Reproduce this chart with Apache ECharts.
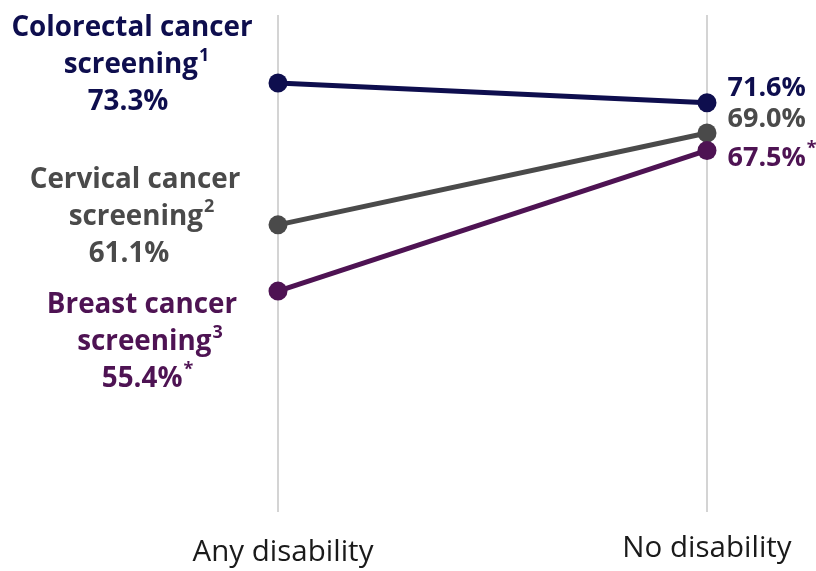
<!DOCTYPE html>
<html>
<head>
<meta charset="utf-8">
<script src="https://cdn.jsdelivr.net/npm/echarts@6/dist/echarts.min.js"></script>
<style>html,body{margin:0;padding:0;background:#fff}#c{width:816px;height:571px}</style>
</head>
<body>
<div id="c"></div>
<script>
var categories = ['Any disability', 'No disability'];
var seriesNames = ['Colorectal cancer screening', 'Cervical cancer screening', 'Breast cancer screening'];
var colorectal = [73.3, 71.6];
var cervical = [61.1, 69.0];
var breast = [55.4, 67.5];
var footnotes = ['1', '2', '3'];
var significant = [[false, false], [false, false], [true, true]];

var colors = ['#0e0e4e', '#4a4a4a', '#4e1353'];
var FONT = '"Open Sans", sans-serif';
// per-line horizontal nudges for the left labels [line2 padL, line2 padR, line3 padL, line3 padR]
var linePads = [[9, 0, 0, 7], [13, 0, 0, 11], [16, 0, 11, 0]];

function rich(color, size, pads) {
  pads = pads || [0, 0, 0, 0];
  var base = { fontFamily: FONT, fontWeight: 'bold', fontSize: size, color: color, lineHeight: 37 };
  return {
    t: base,
    t2: Object.assign({}, base, { padding: [0, 0, 0, pads[0]] }),
    t3: Object.assign({}, base, { padding: [0, 0, 0, pads[2]] }),
    sup: { fontFamily: FONT, fontWeight: 'bold', fontSize: 18, color: color, verticalAlign: 'top', lineHeight: 37, padding: [0, 0, 10, 1] },
    sup2: { fontFamily: FONT, fontWeight: 'bold', fontSize: 18, color: color, verticalAlign: 'top', lineHeight: 37, padding: [0, pads[1], 10, 1] },
    sup3: { fontFamily: FONT, fontWeight: 'bold', fontSize: 18, color: color, verticalAlign: 'top', lineHeight: 37, padding: [0, pads[3], 10, 1] }
  };
}

function leftLabel(idx, name, val, offset) {
  var words = name.split(' ');
  var line1 = words.slice(0, 2).join(' ');
  var line2 = words.slice(2).join(' ');
  var star = significant[idx][0] ? '*' : '';
  return {
    show: true,
    position: 'inside',
    offset: offset,
    align: 'center',
    formatter: '{t|' + line1 + '}\n{t2|' + line2 + '}{sup2|' + footnotes[idx] + '}\n{t3|' + val.toFixed(1) + '%}{sup3|' + star + '}',
    rich: rich(colors[idx], 27.8, linePads[idx])
  };
}

function rightLabel(idx, val, offset) {
  var star = significant[idx][1] ? '{sup|*}' : '';
  return {
    show: true,
    position: 'right',
    distance: 11,
    offset: offset,
    formatter: '{t|' + val.toFixed(1) + '%}' + star,
    rich: rich(colors[idx], 27)
  };
}

var allData = [colorectal, cervical, breast];
var leftOffsets = [[-146, -18], [-143, -8], [-136, 51]];
var rightOffsets = [[0, -14], [0, -14], [0, 8]];

var series = allData.map(function (vals, i) {
  return {
    name: seriesNames[i],
    type: 'line',
    symbol: 'circle',
    symbolSize: 19,
    lineStyle: { color: colors[i], width: 5 },
    itemStyle: { color: colors[i] },
    data: [
      { value: vals[0], label: leftLabel(i, seriesNames[i], vals[0], leftOffsets[i]) },
      { value: vals[1], label: rightLabel(i, vals[1], rightOffsets[i]) }
    ],
    animation: false
  };
});
series[0].z = 5; series[1].z = 4; series[2].z = 6;

var chart = echarts.init(document.getElementById('c'), null, { renderer: 'canvas' });
chart.setOption({
  backgroundColor: '#ffffff',
  animation: false,
  grid: { left: 278, right: 109, top: 15, bottom: 59, containLabel: false },
  xAxis: {
    type: 'category',
    boundaryGap: false,
    data: [
      { value: categories[0], textStyle: { padding: [4, 0, 0, 10] } },
      { value: categories[1], textStyle: { padding: [0, 0, 0, 0] } }
    ],
    axisLine: { show: false },
    axisTick: { show: false },
    axisLabel: { fontFamily: FONT, fontSize: 29.5, color: '#1a1a1a', margin: 22, interval: 0 },
    splitLine: { show: true, lineStyle: { color: '#c6c6c6', width: 1.5 } }
  },
  yAxis: {
    type: 'value',
    min: 36.4,
    max: 79.15,
    show: false,
    splitLine: { show: false }
  },
  series: series
});
</script>
</body>
</html>
